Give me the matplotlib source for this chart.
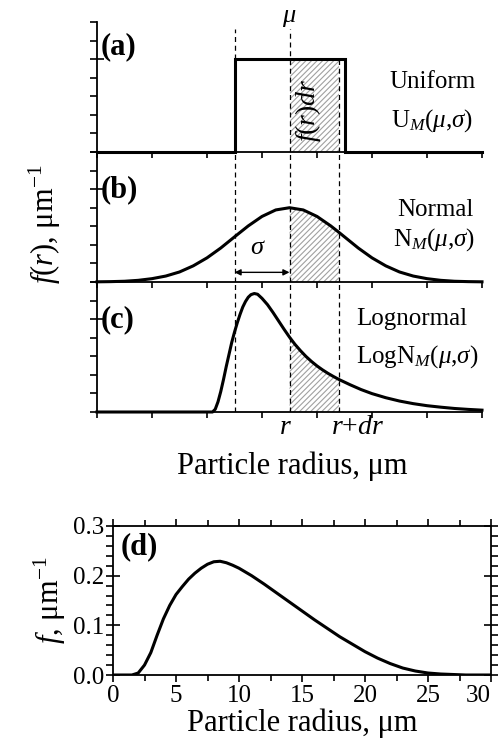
import matplotlib
matplotlib.use('Agg')
import matplotlib.pyplot as plt
from matplotlib.ticker import MultipleLocator, FormatStrFormatter, NullFormatter

plt.rcParams.update({
    'font.family': ['Liberation Serif', 'DejaVu Serif'],
    'mathtext.fontset': 'custom',
    'mathtext.rm': 'Liberation Serif',
    'mathtext.it': 'Liberation Serif:italic',
    'mathtext.bf': 'Liberation Serif:bold',
    'hatch.linewidth': 0.8,
})

# ---------------- data ----------------
# schematic panels (x in arbitrary units 0..7)
mu = 3.5
mu_minus_sigma = 2.5
r_val = 3.5
r_dr = 4.4

uniform_x = [0.0, 2.5, 2.5, 4.5, 4.5, 7.0]
uniform_y = [0.0, 0.0, 5.0, 5.0, 0.0, 0.0]

normal_x = [0.0, 0.25, 0.5, 0.75, 1.0, 1.25, 1.5, 1.75, 2.0, 2.25, 2.5, 2.75, 3.0, 3.25,
            3.5, 3.75, 4.0, 4.25, 4.4, 4.5, 4.75, 5.0, 5.25, 5.5, 5.75, 6.0, 6.25, 6.5, 6.75, 7.0]
normal_y = [0.01, 0.02, 0.04, 0.09, 0.18, 0.32, 0.54, 0.87, 1.30, 1.83, 2.43, 3.02, 3.53, 3.88,
            4.00, 3.88, 3.53, 3.02, 2.67, 2.43, 1.83, 1.30, 0.87, 0.54, 0.32, 0.18, 0.09, 0.04, 0.02, 0.01]

logn_x = [0.0, 2.10, 2.15, 2.20, 2.25, 2.30, 2.35, 2.40, 2.45, 2.50, 2.55, 2.60, 2.65, 2.70, 2.75,
          2.80, 2.86, 2.92, 3.00, 3.10, 3.20, 3.30, 3.40, 3.50, 3.60, 3.70, 3.80, 3.90, 4.00,
          4.10, 4.20, 4.30, 4.40, 4.60, 4.80, 5.00, 5.25, 5.50, 5.75, 6.00, 6.25, 6.50, 6.75, 7.00]
logn_y = [0.0, 0.00, 0.15, 0.55, 1.10, 1.75, 2.45, 3.10, 3.75, 4.30, 4.80, 5.25, 5.65, 5.95, 6.18,
          6.32, 6.38, 6.34, 6.12, 5.78, 5.36, 4.91, 4.46, 4.03, 3.64, 3.30, 2.99, 2.72, 2.48,
          2.27, 2.08, 1.91, 1.75, 1.47, 1.21, 0.99, 0.77, 0.59, 0.45, 0.34, 0.26, 0.19, 0.14, 0.10]

# panel (d)
d_x = [0, 1.0, 1.5, 2.0, 2.5, 3.0, 3.5, 4.0, 4.5, 5.0, 5.5, 6.0, 6.5, 7.0, 7.5, 8.0, 8.5, 9.0,
       9.5, 10, 11, 12, 13, 14, 15, 16, 17, 18, 19, 20, 21, 22, 23, 24, 25, 26, 27, 28, 29, 30]
d_y = [0, 0, 0, 0.004, 0.02, 0.045, 0.08, 0.113, 0.140, 0.162, 0.178, 0.193, 0.205, 0.215, 0.223,
       0.228, 0.229, 0.226, 0.221, 0.215, 0.200, 0.183, 0.165, 0.147, 0.129, 0.111, 0.094, 0.077,
       0.062, 0.047, 0.034, 0.023, 0.014, 0.008, 0.004, 0.002, 0.001, 0, 0, 0]

d_xticks = [0, 5, 10, 15, 20, 25, 30]
d_yticks = [0.0, 0.1, 0.2, 0.3]

# ---------------- figure ----------------
fig = plt.figure(figsize=(4.99, 7.46), dpi=100)
W, H = 499.0, 746.0
axw = 385 / W
tops = [22, 152, 282]
axs = []
for t in tops:
    axs.append(fig.add_axes([97 / W, 1 - (t + 130) / H, axw, 130 / H]))
axa, axb, axc = axs

LW = 2.2
HATCH_COL = '#a0a0a0'
dash = dict(color='black', lw=0.9, ls=(0, (4, 3)))

for ax in axs:
    ax.set_xlim(0, 7)
    ax.set_ylim(0, 7)
    ax.spines['top'].set_visible(False)
    ax.spines['right'].set_visible(False)
    for s in ('left', 'bottom'):
        ax.spines[s].set_linewidth(1.3)
    ax.set_xticks(range(8))
    ax.set_yticks([0, 5])
    ax.yaxis.set_minor_locator(MultipleLocator(1))
    ax.xaxis.set_major_formatter(NullFormatter())
    ax.yaxis.set_major_formatter(NullFormatter())
    ax.tick_params(axis='x', direction='out', length=4, width=1.2)
    ax.tick_params(axis='y', which='major', direction='inout', length=10, width=1.2)
    ax.tick_params(axis='y', which='minor', direction='out', length=5, width=1.2)
    ax.patch.set_alpha(0)

# (a) uniform
axa.fill_between([r_val, r_dr], 0, [uniform_y[2], uniform_y[3]], facecolor='none',
                 edgecolor=HATCH_COL, hatch='//////', linewidth=0)
axa.plot(uniform_x, uniform_y, color='black', lw=LW, clip_on=False, solid_joinstyle='miter')
axa.plot([mu_minus_sigma, mu_minus_sigma], [5, 6.6], **dash)
axa.plot([mu, mu], [0, 6.6], **dash)
axa.plot([r_dr, r_dr], [0, 5], **dash)
axa.text(mu, 7.2, r'$\mu$', ha='center', va='center', fontsize=19, clip_on=False)
axa.text(3.84, 2.25, r'$f(r)dr$', rotation=90, ha='center', va='center', fontsize=20)
axa.text(6.11, 3.76, 'Uniform', ha='center', va='center', fontsize=18)
axa.text(6.09, 1.67, r'U$_{M}$($\mu$,$\sigma$)', ha='center', va='center', fontsize=18)
axa.text(0.01, 0.81, '(a)', transform=axa.transAxes, fontsize=22, fontweight='bold',
         ha='left', va='center')

# (b) normal
nx = normal_x
ny = normal_y
axb.fill_between(nx, 0, ny, where=[(v >= r_val) and (v <= r_dr) for v in nx],
                 facecolor='none', edgecolor=HATCH_COL, hatch='//////', linewidth=0)
axb.plot(nx, ny, color='black', lw=LW, clip_on=False)
for xv in (mu_minus_sigma, mu, r_dr):
    axb.axvline(xv, **dash)
axb.annotate('', xy=(mu_minus_sigma, 0.52), xytext=(mu, 0.52),
             arrowprops=dict(arrowstyle='<|-|>', color='black', lw=1.0,
                             shrinkA=0, shrinkB=0, mutation_scale=9))
axb.text(2.93, 1.84, r'$\sigma$', ha='center', va='center', fontsize=19)
axb.text(6.15, 3.89, 'Normal', ha='center', va='center', fontsize=18)
axb.text(6.13, 2.27, r'N$_{M}$($\mu$,$\sigma$)', ha='center', va='center', fontsize=18)
axb.text(0.01, 0.71, '(b)', transform=axb.transAxes, fontsize=22, fontweight='bold',
         ha='left', va='center')

# (c) lognormal
lx = logn_x
ly = logn_y
axc.fill_between(lx, 0, ly, where=[(v >= r_val) and (v <= r_dr) for v in lx],
                 facecolor='none', edgecolor=HATCH_COL, hatch='//////', linewidth=0)
axc.plot(lx, ly, color='black', lw=LW, clip_on=False)
for xv in (mu_minus_sigma, mu, r_dr):
    axc.axvline(xv, **dash)
axc.text(5.73, 5.0, 'Lognormal', ha='center', va='center', fontsize=18)
axc.text(5.82, 2.96, r'LogN$_{M}$($\mu$,$\sigma$)', ha='center', va='center', fontsize=18)
axc.text(0.01, 0.71, '(c)', transform=axc.transAxes, fontsize=22, fontweight='bold',
         ha='left', va='center')
axc.text(r_val - 0.08, -0.85, r'$r$', ha='center', va='center', fontsize=20, clip_on=False)
axc.text(r_dr + 0.33, -0.85, r'$r$+$dr$', ha='center', va='center', fontsize=20, clip_on=False)

fig.text(292 / W, 1 - 466 / H, 'Particle radius, μm', ha='center', va='center', fontsize=22)
fig.text(45 / W, 1 - 224 / H, r'$f(r)$, μm$^{\mathregular{-1}}$', rotation=90,
         ha='center', va='center', fontsize=22)

# (d)
axd = fig.add_axes([113 / W, 1 - 675 / H, 378 / W, 149 / H])
axd.plot(d_x, d_y, color='black', lw=LW)
axd.set_xlim(0, 30)
axd.set_ylim(0, 0.3)
axd.set_xticks(d_xticks)
axd.set_yticks(d_yticks)
axd.xaxis.set_minor_locator(MultipleLocator(2.5))
axd.yaxis.set_minor_locator(MultipleLocator(0.02))
axd.yaxis.set_major_formatter(FormatStrFormatter('%.1f'))
for s in axd.spines.values():
    s.set_linewidth(1.3)
axd.tick_params(axis='x', which='both', direction='out', top=True, width=1.2, labelsize=18, pad=2)
axd.tick_params(axis='x', which='major', length=5)
axd.tick_params(axis='x', which='minor', length=4)
axd.tick_params(axis='y', which='major', direction='inout', length=10, width=1.2, right=True,
                labelsize=18, pad=1)
axd.tick_params(axis='y', which='minor', direction='out', length=5, width=1.2, right=True)
axd.set_xlabel('Particle radius, μm', fontsize=22, labelpad=1)
axd.set_ylabel(r'$f$, μm$^{\mathregular{-1}}$', fontsize=22, labelpad=4)
axd.text(0.02, 0.86, '(d)', transform=axd.transAxes, fontsize=22, fontweight='bold',
         ha='left', va='center')
fig.canvas.draw()
xl = axd.get_xticklabels()
xl[-1].set_horizontalalignment('right')
xl[-1].set_x(xl[-1].get_position()[0])

fig.savefig('out.png', dpi=100)
